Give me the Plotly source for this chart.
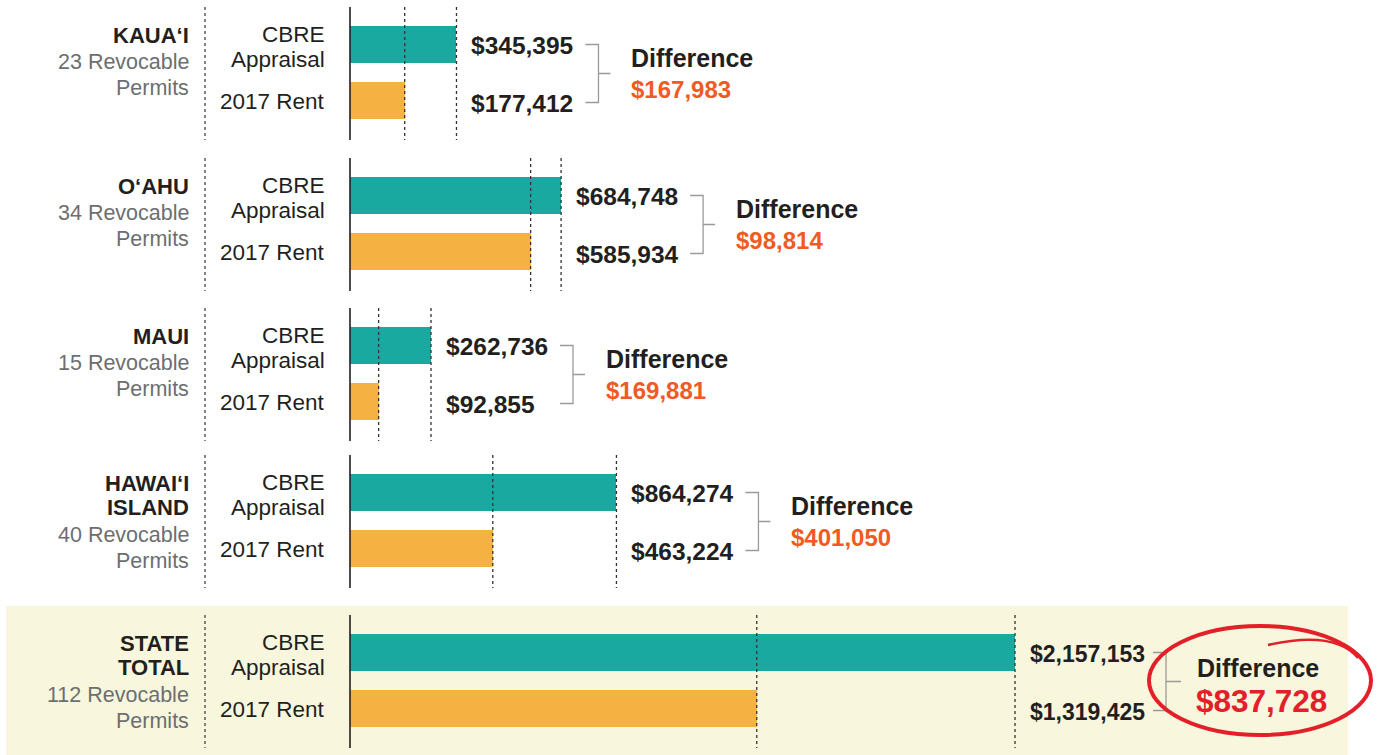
import plotly.graph_objects as go

# ---------------- data ----------------
regions = [["KAUA‘I"], ["O‘AHU"], ["MAUI"], ["HAWAI‘I", "ISLAND"], ["STATE", "TOTAL"]]
permits = [23, 34, 15, 40, 112]
cbre = [345395, 684748, 262736, 864274, 2157153]
rent = [177412, 585934, 92855, 463224, 1319425]
series_names = [["CBRE", "Appraisal"], ["2017 Rent"]]

# ---------------- layout constants (pixels) ----------------
W, H = 1378, 755
X0 = 350            # pixel where $0 sits
XMAX_PX = 1015      # pixel where the largest bar ends
k = (XMAX_PX - X0) / max(cbre)   # pixels per dollar
row_top = [26, 177, 327, 474, 634]
BAR_H = 37
ROW_GAP = 56

FONT = "Liberation Sans, Arial, Helvetica, sans-serif"
DARK = "#231f20"
GRAY = "#6d6e71"
TEAL = "#19a9a1"
ORANGE = "#f5b142"
DIFF_ORANGE = "#f15a24"
RED = "#e3202a"
BRACKET = "#9a9a9a"


def xv(px):
    """pixel -> data x"""
    return (px - X0) / k


def px_of(v):
    return X0 + v * k


def text(x, y, s, size, color, anchor="right", bold=False):
    return dict(x=xv(x), y=y, xref="x", yref="y", xanchor=anchor, yanchor="middle",
                text=f"<b>{s}</b>" if bold else s, showarrow=False,
                font=dict(family=FONT, size=size, color=color))


y_cbre = [t + BAR_H / 2 for t in row_top]
y_rent = [t + BAR_H / 2 + ROW_GAP for t in row_top]

fig = go.Figure()
fig.add_trace(go.Bar(x=cbre, y=y_cbre, orientation="h", width=BAR_H,
                     marker=dict(color=TEAL, line=dict(width=0)),
                     name="CBRE Appraisal", hoverinfo="x"))
fig.add_trace(go.Bar(x=rent, y=y_rent, orientation="h", width=BAR_H,
                     marker=dict(color=ORANGE, line=dict(width=0)),
                     name="2017 Rent", hoverinfo="x"))

shapes = []
annotations = []

# background box for the state total
shapes.append(dict(type="rect", xref="x", yref="y", x0=xv(6), x1=xv(1348),
                   y0=606, y1=H + 5, fillcolor="#f8f6dc", line=dict(width=0),
                   layer="below"))

for i in range(len(regions)):
    top = row_top[i]
    g_top = top - 19
    g_bot = top + ROW_GAP + BAR_H + 21
    # left dotted separator
    shapes.append(dict(type="line", xref="x", yref="y", x0=xv(205), x1=xv(205),
                       y0=g_top, y1=g_bot, line=dict(color="#444", width=1.3, dash="dot")))
    # dotted lines at bar ends
    for v in (cbre[i], rent[i]):
        shapes.append(dict(type="line", xref="x", yref="y", x0=v, x1=v,
                           y0=g_top, y1=g_bot, layer="above",
                           line=dict(color="#333", width=1.3, dash="dot")))
    # zero axis line
    shapes.append(dict(type="line", xref="x", yref="y", x0=0, x1=0,
                       y0=g_top, y1=g_bot, line=dict(color=DARK, width=1.6)))

    # region title lines
    y = top + 9
    for line in regions[i]:
        annotations.append(text(190.5, y, line, 22, DARK, bold=True))
        y += 24.8
    y += 2
    for line in (f"{permits[i]} Revocable", "Permits"):
        annotations.append(text(190.5, y, line, 21.5, GRAY))
        y += 26.5

    # series labels
    y = top + 8.5
    for line in series_names[0]:
        annotations.append(text(327, y, line, 22.5, DARK))
        y += 25.3
    annotations.append(text(327, y_rent[i] + 0.5, series_names[1][0], 22.5, DARK))

    # value labels
    big = i == len(regions) - 1
    lab_x = max(px_of(cbre[i]), px_of(rent[i])) + 13
    vsize = 23 if big else 24.5
    annotations.append(text(lab_x, y_cbre[i] + 1, f"${cbre[i]:,}", vsize, DARK,
                            anchor="left", bold=True))
    annotations.append(text(lab_x, y_rent[i] + 3, f"${rent[i]:,}", vsize, DARK,
                            anchor="left", bold=True))

    # bracket
    off = 125 if big else 116
    bx0 = lab_x + off
    bx1 = bx0 + 13
    bx2 = bx1 + (15 if big else 12)
    ya = y_cbre[i]
    yb = y_rent[i] + 2
    ym = (ya + yb) / 2
    path = (f"M {xv(bx0)},{ya} L {xv(bx1)},{ya} L {xv(bx1)},{yb} L {xv(bx0)},{yb} "
            f"M {xv(bx1)},{ym} L {xv(bx2)},{ym}")
    shapes.append(dict(type="path", xref="x", yref="y", path=path,
                       line=dict(color=BRACKET, width=1.3)))

    diff = cbre[i] - rent[i]
    dx = bx2 + (15 if big else 19)
    annotations.append(text(dx - 1 if big else dx, ym - (14 if big else 16), "Difference",
                            25, DARK, anchor="left", bold=True))
    annotations.append(text(dx - 2 if big else dx, ym + (19 if big else 16), f"${diff:,}",
                            31.5 if big else 24, RED if big else DIFF_ORANGE,
                            anchor="left", bold=True))

# hand-drawn style red circle around the state difference
shapes.append(dict(type="circle", xref="x", yref="y", x0=xv(1149), x1=xv(1371),
                   y0=626, y1=735, line=dict(color=RED, width=4)))
shapes.append(dict(type="path", xref="x", yref="y",
                   path=f"M {xv(1268)},{645} Q {xv(1335)},{630} {xv(1358)},{658}",
                   line=dict(color=RED, width=2.5)))

fig.update_layout(
    width=W, height=H,
    margin=dict(l=0, r=0, t=0, b=0),
    paper_bgcolor="white", plot_bgcolor="white",
    showlegend=False, barmode="overlay", bargap=0,
    xaxis=dict(range=[xv(0), xv(W)], visible=False, fixedrange=True),
    yaxis=dict(range=[H, 0], visible=False, fixedrange=True),
    shapes=shapes, annotations=annotations,
)

fig.write_html("out.html")
